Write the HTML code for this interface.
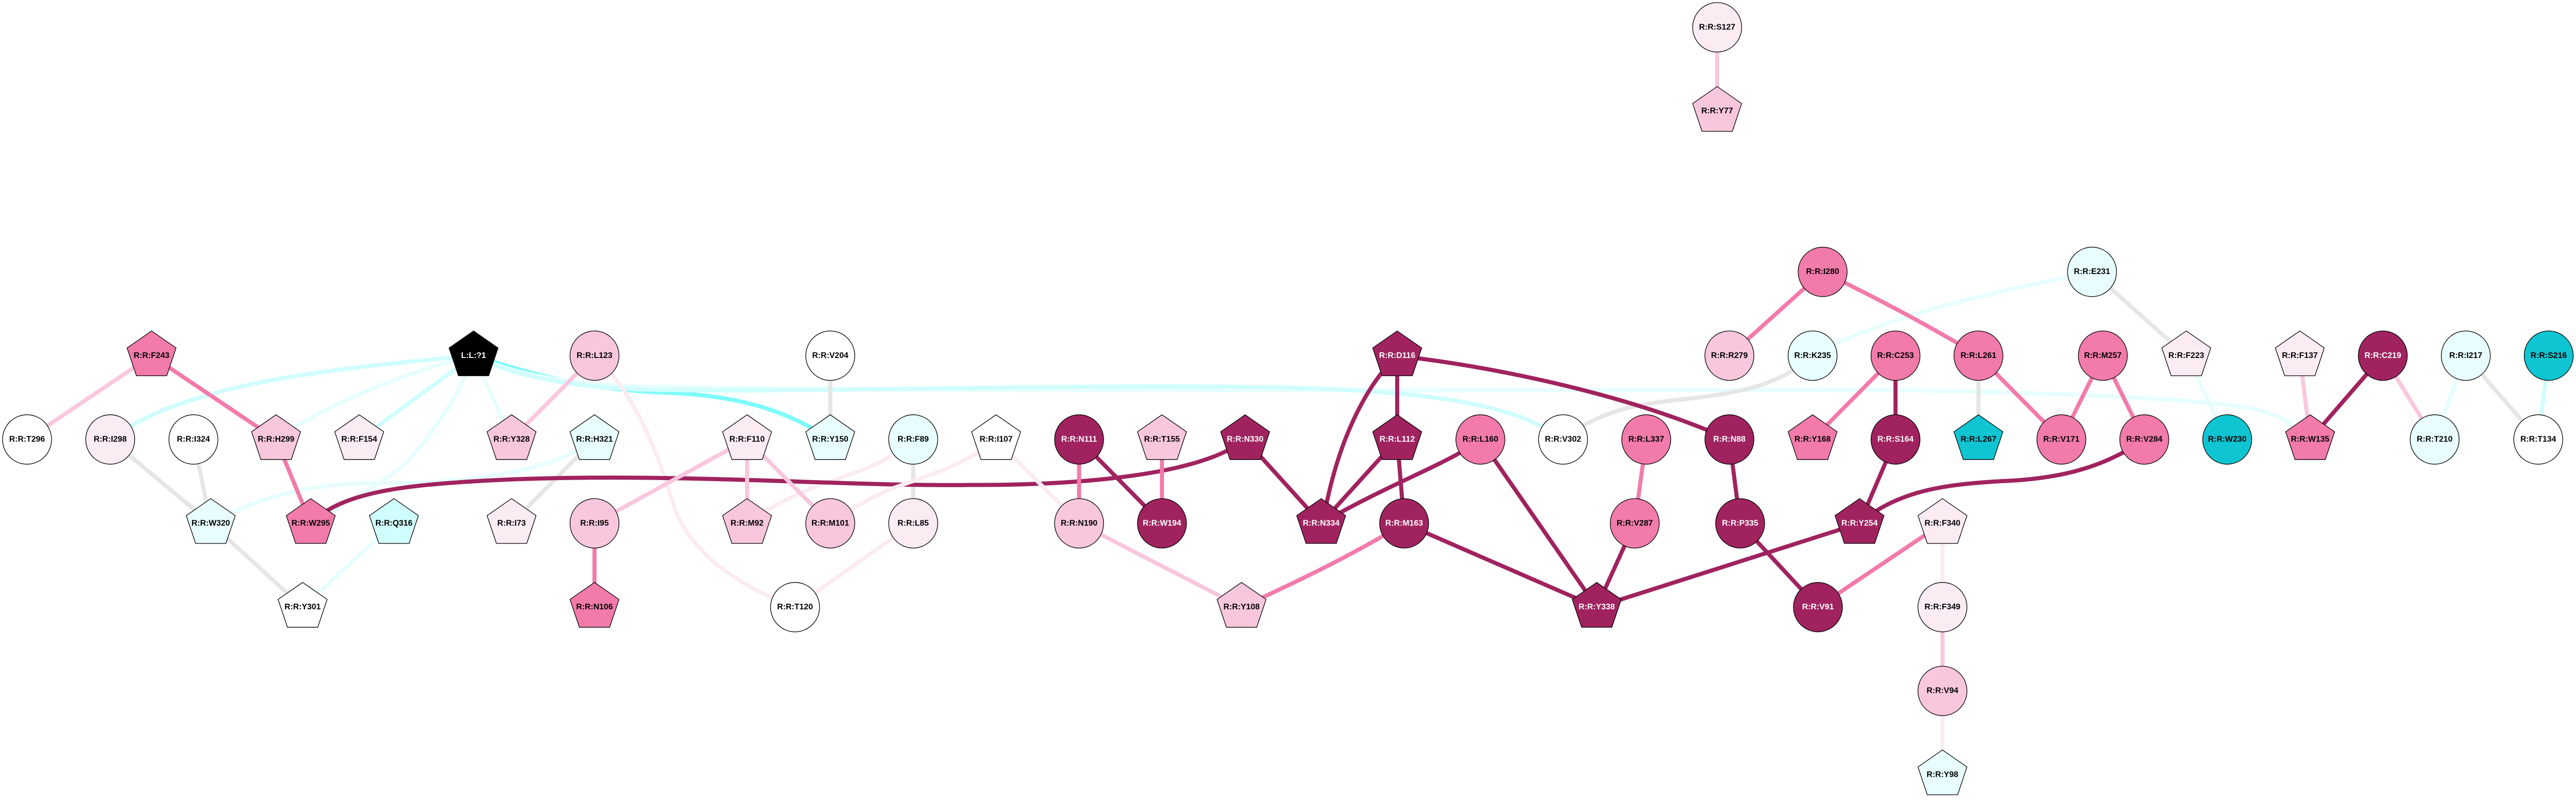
<!DOCTYPE html>
<html lang="en">
<head>
<meta charset="utf-8">
<title>Residue network</title>
<style>
html,body{margin:0;padding:0;background:#fff;width:100%;height:100%;overflow:hidden}
svg{display:block;width:100vw;height:100vh}
text{font-family:"Liberation Sans",Arial,sans-serif;font-size:16px;font-weight:bold;text-anchor:middle;fill:#000}
text.w{fill:#fff}
.e path,.e line{fill:none;stroke-width:8}
.n circle,.n use{stroke:#000;stroke-width:1.3}
.lc{stroke:#e8fefe}.cy{stroke:#d0fdfd}.br{stroke:#7dfbfb}.gr{stroke:#e6e6e6}
.lp{stroke:#fbecf4}.mp{stroke:#f9c7dd}.pk{stroke:#f27bab}.dk{stroke:#a0235f}
</style>
</head>
<body>
<svg xmlns="http://www.w3.org/2000/svg" viewBox="0 0 5048 1557" preserveAspectRatio="none">
<defs><polygon id="p" points="0,-48 48,-15 29.7,39 -29.7,39 -48,-15"/></defs>
<rect width="5048" height="1557" fill="#fff"/>
<g class="e">
<!-- ligand edges -->
<path class="br" d="M928,690.5 C1000,712 1120,755 1300,762 C1400,766 1520,780 1627,853.2"/>
<path class="cy" d="M928,690.5 C790,703 564,722 415,765 C360,781 290,800 216,853.2"/>
<path class="lc" d="M928,690.5 C830,712 670,770 560,840 L541,853.2"/>
<line class="cy" x1="928" y1="690.5" x2="704" y2="853.2"/>
<line class="lc" x1="928" y1="690.5" x2="1002.5" y2="853.2"/>
<path class="lc" d="M928,690.5 C900,765 855,835 790,905 C730,950 680,975 609,1016"/>
<path class="lc" d="M1165,853.2 C1110,895 1020,925 829,937 C700,938 570,930 413,1016"/>
<path class="lc" d="M928,690.5 C1000,725 1120,750 1300,751 C1700,760 2700,758 3600,757 C3900,757 4250,770 4400,790 C4450,800 4490,815 4527,853.2"/>
<path class="cy" d="M928,690.5 C1000,728 1120,755 1300,757 C1600,762 2100,745 2500,752 C2750,758 2960,775 3063,853.2"/>
<line class="lc" x1="772" y1="1016" x2="593" y2="1178.7"/>
<path class="lc" d="M4099.6,527.8 C3950,560 3720,600 3552,690.5"/>
<line class="lc" x1="4284.3" y1="690.5" x2="4364.5" y2="853.2"/>
<line class="lc" x1="4832" y1="690.5" x2="4771" y2="853.2"/>
<line class="cy" x1="4994.5" y1="690.5" x2="4974" y2="853.2"/>
<!-- gray -->
<line class="gr" x1="216" y1="853.2" x2="413" y2="1016"/>
<line class="gr" x1="379" y1="853.2" x2="413" y2="1016"/>
<line class="gr" x1="413" y1="1016" x2="593" y2="1178.7"/>
<line class="gr" x1="1165" y1="853.2" x2="1002.5" y2="1016"/>
<line class="gr" x1="1627" y1="690.5" x2="1627" y2="853.2"/>
<line class="gr" x1="1789.5" y1="853.2" x2="1789.5" y2="1016"/>
<line class="gr" x1="4099.6" y1="527.8" x2="4284.3" y2="690.5"/>
<line class="gr" x1="3877" y1="690.5" x2="3877" y2="853.2"/>
<line class="gr" x1="4832" y1="690.5" x2="4974" y2="853.2"/>
<!-- light pink beneath the dark arc -->
<path class="lp" d="M1165,690.5 C1245,765 1285,870 1320,980 C1350,1070 1440,1135 1558,1178.7"/>
<path class="lp" d="M1789.5,853.2 C1720,915 1640,925 1573,955 C1530,975 1500,990 1464,1016"/>
<!-- dark arc -->
<path class="dk" d="M609,1016 C670,955 790,942 953,933 C1300,915 1650,945 1905,941.5 C2100,942 2350,925 2440,853.2"/>
<!-- light pink above -->
<path class="lp" d="M1952,853.2 C1890,905 1810,925 1739,952 C1695,972 1665,990 1627,1016"/>
<line class="lp" x1="1952" y1="853.2" x2="2114.6" y2="1016"/>
<line class="lp" x1="1789.5" y1="1016" x2="1558" y2="1178.7"/>
<line class="lp" x1="3806.5" y1="1016" x2="3806.5" y2="1178.7"/>
<line class="lp" x1="3806.5" y1="1341.4" x2="3806.5" y2="1504"/>
<!-- medium pink -->
<line class="mp" x1="3365" y1="53" x2="3365" y2="216"/>
<line class="mp" x1="297" y1="690.5" x2="53" y2="853.2"/>
<line class="mp" x1="1165" y1="690.5" x2="1002.5" y2="853.2"/>
<line class="mp" x1="1464" y1="853.2" x2="1165" y2="1016"/>
<line class="mp" x1="1464" y1="853.2" x2="1464" y2="1016"/>
<line class="mp" x1="1464" y1="853.2" x2="1627" y2="1016"/>
<line class="mp" x1="2114.6" y1="1016" x2="2433" y2="1178.7"/>
<line class="mp" x1="3806.5" y1="1178.7" x2="3806.5" y2="1341.4"/>
<line class="mp" x1="4506.8" y1="690.5" x2="4527" y2="853.2"/>
<line class="mp" x1="4669.4" y1="690.5" x2="4771" y2="853.2"/>
<!-- gray curve -->
<path class="gr" d="M3552,690.5 C3490,745 3420,762 3300,775 C3200,785 3130,800 3063,853.2"/>
<!-- dark -->
<line class="dk" x1="2114.6" y1="853.2" x2="2277" y2="1016"/>
<line class="dk" x1="2440" y1="853.2" x2="2589" y2="1016"/>
<path class="dk" d="M2738,690.5 C2685,740 2625,840 2595,1000 L2589,1016"/>
<line class="dk" x1="2738" y1="690.5" x2="2738" y2="853.2"/>
<path class="dk" d="M2738,690.5 C2950,715 3200,770 3389,853.2"/>
<line class="dk" x1="2738" y1="853.2" x2="2589" y2="1016"/>
<line class="dk" x1="2738" y1="853.2" x2="2751.6" y2="1016"/>
<path class="dk" d="M2901,853.2 C2840,900 2730,935 2589,1016"/>
<line class="dk" x1="2901" y1="853.2" x2="3129" y2="1178.7"/>
<line class="dk" x1="2751.6" y1="1016" x2="3129" y2="1178.7"/>
<line class="dk" x1="3203.5" y1="1016" x2="3129" y2="1178.7"/>
<line class="dk" x1="3644" y1="1016" x2="3129" y2="1178.7"/>
<line class="dk" x1="3389" y1="853.2" x2="3410" y2="1016"/>
<line class="dk" x1="3410" y1="1016" x2="3562.5" y2="1178.7"/>
<line class="dk" x1="3714.5" y1="690.5" x2="3714.5" y2="853.2"/>
<line class="dk" x1="3714.5" y1="853.2" x2="3644" y2="1016"/>
<path class="dk" d="M4202,853.2 C4120,910 4030,930 3924,934 C3820,940 3720,950 3644,1016"/>
<line class="dk" x1="4669.4" y1="690.5" x2="4527" y2="853.2"/>
<!-- pink -->
<line class="pk" x1="297" y1="690.5" x2="541" y2="853.2"/>
<line class="pk" x1="541" y1="853.2" x2="609" y2="1016"/>
<line class="pk" x1="1165" y1="1016" x2="1165" y2="1178.7"/>
<line class="pk" x1="2114.6" y1="853.2" x2="2114.6" y2="1016"/>
<line class="pk" x1="2277" y1="853.2" x2="2277" y2="1016"/>
<path class="pk" d="M2751.6,1016 C2650,1078 2540,1130 2433,1178.7"/>
<line class="pk" x1="3226" y1="853.2" x2="3203.5" y2="1016"/>
<line class="pk" x1="3571.7" y1="527.8" x2="3389" y2="690.5"/>
<path class="pk" d="M3571.7,527.8 C3670,575 3780,632 3877,690.5"/>
<line class="pk" x1="3714.5" y1="690.5" x2="3552" y2="853.2"/>
<line class="pk" x1="3877" y1="690.5" x2="4039.5" y2="853.2"/>
<line class="pk" x1="4120.8" y1="690.5" x2="4039.5" y2="853.2"/>
<line class="pk" x1="4120.8" y1="690.5" x2="4202" y2="853.2"/>
<line class="pk" x1="3806.5" y1="1016" x2="3562.5" y2="1178.7"/>
</g>
<g class="n">
<circle cx="3365" cy="53" r="48" fill="#fbecf4"/><text x="3365" y="57.3">R:R:S127</text>
<use href="#p" x="3365" y="216" fill="#f9c7dd"/><text x="3365" y="220">R:R:Y77</text>
<circle cx="3571.7" cy="527.8" r="48" fill="#f27bab"/><text x="3571.7" y="532">R:R:I280</text>
<circle cx="4099.6" cy="527.8" r="48" fill="#e8fefe"/><text x="4099.6" y="532">R:R:E231</text>

<use href="#p" x="297" y="690.5" fill="#f27bab"/><text x="297" y="694.8">R:R:F243</text>
<use href="#p" x="928" y="690.5" fill="#000"/><text class="w" x="928" y="694.8">L:L:?1</text>
<circle cx="1165" cy="690.5" r="48" fill="#f9c7dd"/><text x="1165" y="694.8">R:R:L123</text>
<circle cx="1627" cy="690.5" r="48" fill="#fff"/><text x="1627" y="694.8">R:R:V204</text>
<use href="#p" x="2738" y="690.5" fill="#a0235f"/><text class="w" x="2738" y="694.8">R:R:D116</text>
<circle cx="3389" cy="690.5" r="48" fill="#f9c7dd"/><text x="3389" y="694.8">R:R:R279</text>
<circle cx="3552" cy="690.5" r="48" fill="#e8fefe"/><text x="3552" y="694.8">R:R:K235</text>
<circle cx="3714.5" cy="690.5" r="48" fill="#f27bab"/><text x="3714.5" y="694.8">R:R:C253</text>
<circle cx="3877" cy="690.5" r="48" fill="#f27bab"/><text x="3877" y="694.8">R:R:L261</text>
<circle cx="4120.8" cy="690.5" r="48" fill="#f27bab"/><text x="4120.8" y="694.8">R:R:M257</text>
<use href="#p" x="4284.3" y="690.5" fill="#fbecf4"/><text x="4284.3" y="694.8">R:R:F223</text>
<use href="#p" x="4506.8" y="690.5" fill="#fbecf4"/><text x="4506.8" y="694.8">R:R:F137</text>
<circle cx="4669.4" cy="690.5" r="48" fill="#a0235f"/><text class="w" x="4669.4" y="694.8">R:R:C219</text>
<circle cx="4832" cy="690.5" r="48" fill="#e8fefe"/><text x="4832" y="694.8">R:R:I217</text>
<circle cx="4994.5" cy="690.5" r="48" fill="#0fc5d1"/><text x="4994.5" y="694.8">R:R:S216</text>

<circle cx="53" cy="853.2" r="48" fill="#fff"/><text x="53" y="857.5">R:R:T296</text>
<circle cx="216" cy="853.2" r="48" fill="#fbecf4"/><text x="216" y="857.5">R:R:I298</text>
<circle cx="379" cy="853.2" r="48" fill="#fff"/><text x="379" y="857.5">R:R:I324</text>
<use href="#p" x="541" y="853.2" fill="#f9c7dd"/><text x="541" y="857.5">R:R:H299</text>
<use href="#p" x="704" y="853.2" fill="#fbecf4"/><text x="704" y="857.5">R:R:F154</text>
<use href="#p" x="1002.5" y="853.2" fill="#f9c7dd"/><text x="1002.5" y="857.5">R:R:Y328</text>
<use href="#p" x="1165" y="853.2" fill="#e8fefe"/><text x="1165" y="857.5">R:R:H321</text>
<use href="#p" x="1464" y="853.2" fill="#fbecf4"/><text x="1464" y="857.5">R:R:F110</text>
<use href="#p" x="1627" y="853.2" fill="#e8fefe"/><text x="1627" y="857.5">R:R:Y150</text>
<circle cx="1789.5" cy="853.2" r="48" fill="#e8fefe"/><text x="1789.5" y="857.5">R:R:F89</text>
<use href="#p" x="1952" y="853.2" fill="#fff"/><text x="1952" y="857.5">R:R:I107</text>
<circle cx="2114.6" cy="853.2" r="48" fill="#a0235f"/><text class="w" x="2114.6" y="857.5">R:R:N111</text>
<use href="#p" x="2277" y="853.2" fill="#f9c7dd"/><text x="2277" y="857.5">R:R:T155</text>
<use href="#p" x="2440" y="853.2" fill="#a0235f"/><text class="w" x="2440" y="857.5">R:R:N330</text>
<use href="#p" x="2738" y="853.2" fill="#a0235f"/><text class="w" x="2738" y="857.5">R:R:L112</text>
<circle cx="2901" cy="853.2" r="48" fill="#f27bab"/><text x="2901" y="857.5">R:R:L160</text>
<circle cx="3063" cy="853.2" r="48" fill="#fff"/><text x="3063" y="857.5">R:R:V302</text>
<circle cx="3226" cy="853.2" r="48" fill="#f27bab"/><text x="3226" y="857.5">R:R:L337</text>
<circle cx="3389" cy="853.2" r="48" fill="#a0235f"/><text class="w" x="3389" y="857.5">R:R:N88</text>
<use href="#p" x="3552" y="853.2" fill="#f27bab"/><text x="3552" y="857.5">R:R:Y168</text>
<circle cx="3714.5" cy="853.2" r="48" fill="#a0235f"/><text class="w" x="3714.5" y="857.5">R:R:S164</text>
<use href="#p" x="3877" y="853.2" fill="#0fc5d1"/><text x="3877" y="857.5">R:R:L267</text>
<circle cx="4039.5" cy="853.2" r="48" fill="#f27bab"/><text x="4039.5" y="857.5">R:R:V171</text>
<circle cx="4202" cy="853.2" r="48" fill="#f27bab"/><text x="4202" y="857.5">R:R:V284</text>
<circle cx="4364.5" cy="853.2" r="48" fill="#0fc5d1"/><text x="4364.5" y="857.5">R:R:W230</text>
<use href="#p" x="4527" y="853.2" fill="#f27bab"/><text x="4527" y="857.5">R:R:W135</text>
<circle cx="4771" cy="853.2" r="48" fill="#e8fefe"/><text x="4771" y="857.5">R:R:T210</text>
<circle cx="4974" cy="853.2" r="48" fill="#fff"/><text x="4974" y="857.5">R:R:T134</text>

<use href="#p" x="413" y="1016" fill="#e8fefe"/><text x="413" y="1020.3">R:R:W320</text>
<use href="#p" x="609" y="1016" fill="#f27bab"/><text x="609" y="1020.3">R:R:W295</text>
<use href="#p" x="772" y="1016" fill="#d0fdfd"/><text x="772" y="1020.3">R:R:Q316</text>
<use href="#p" x="1002.5" y="1016" fill="#fbecf4"/><text x="1002.5" y="1020.3">R:R:I73</text>
<circle cx="1165" cy="1016" r="48" fill="#f9c7dd"/><text x="1165" y="1020.3">R:R:I95</text>
<use href="#p" x="1464" y="1016" fill="#f9c7dd"/><text x="1464" y="1020.3">R:R:M92</text>
<circle cx="1627" cy="1016" r="48" fill="#f9c7dd"/><text x="1627" y="1020.3">R:R:M101</text>
<circle cx="1789.5" cy="1016" r="48" fill="#fbecf4"/><text x="1789.5" y="1020.3">R:R:L85</text>
<circle cx="2114.6" cy="1016" r="48" fill="#f9c7dd"/><text x="2114.6" y="1020.3">R:R:N190</text>
<circle cx="2277" cy="1016" r="48" fill="#a0235f"/><text class="w" x="2277" y="1020.3">R:R:W194</text>
<use href="#p" x="2589" y="1016" fill="#a0235f"/><text class="w" x="2589" y="1020.3">R:R:N334</text>
<circle cx="2751.6" cy="1016" r="48" fill="#a0235f"/><text class="w" x="2751.6" y="1020.3">R:R:M163</text>
<circle cx="3203.5" cy="1016" r="48" fill="#f27bab"/><text x="3203.5" y="1020.3">R:R:V287</text>
<circle cx="3410" cy="1016" r="48" fill="#a0235f"/><text class="w" x="3410" y="1020.3">R:R:P335</text>
<use href="#p" x="3644" y="1016" fill="#a0235f"/><text class="w" x="3644" y="1020.3">R:R:Y254</text>
<use href="#p" x="3806.5" y="1016" fill="#fbecf4"/><text x="3806.5" y="1020.3">R:R:F340</text>

<use href="#p" x="593" y="1178.7" fill="#fff"/><text x="593" y="1183">R:R:Y301</text>
<use href="#p" x="1165" y="1178.7" fill="#f27bab"/><text x="1165" y="1183">R:R:N106</text>
<circle cx="1558" cy="1178.7" r="48" fill="#fff"/><text x="1558" y="1183">R:R:T120</text>
<use href="#p" x="2433" y="1178.7" fill="#f9c7dd"/><text x="2433" y="1183">R:R:Y108</text>
<use href="#p" x="3129" y="1178.7" fill="#a0235f"/><text class="w" x="3129" y="1183">R:R:Y338</text>
<circle cx="3562.5" cy="1178.7" r="48" fill="#a0235f"/><text class="w" x="3562.5" y="1183">R:R:V91</text>
<circle cx="3806.5" cy="1178.7" r="48" fill="#fbecf4"/><text x="3806.5" y="1183">R:R:F349</text>
<circle cx="3806.5" cy="1341.4" r="48" fill="#f9c7dd"/><text x="3806.5" y="1345.7">R:R:V94</text>
<use href="#p" x="3806.5" y="1504" fill="#e8fefe"/><text x="3806.5" y="1508.3">R:R:Y98</text>
</g>
</svg>
</body>
</html>
